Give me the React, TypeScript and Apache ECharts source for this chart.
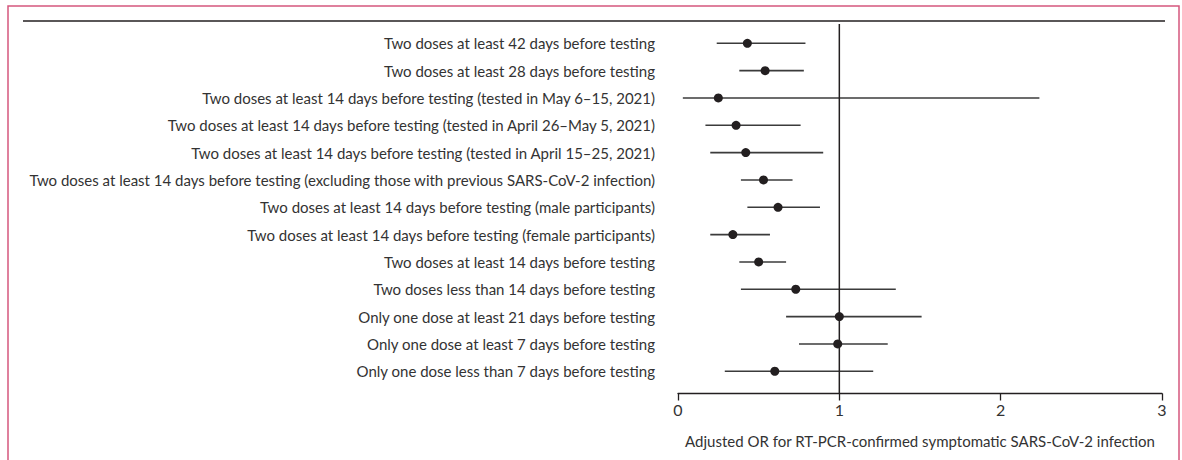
import React, { useEffect, useRef } from "react";
import * as echarts from "echarts";

const categories = [
  "Two doses at least 42 days before testing",
  "Two doses at least 28 days before testing",
  "Two doses at least 14 days before testing (tested in May 6–15, 2021)",
  "Two doses at least 14 days before testing (tested in April 26–May 5, 2021)",
  "Two doses at least 14 days before testing (tested in April 15–25, 2021)",
  "Two doses at least 14 days before testing (excluding those with previous SARS-CoV-2 infection)",
  "Two doses at least 14 days before testing (male participants)",
  "Two doses at least 14 days before testing (female participants)",
  "Two doses at least 14 days before testing",
  "Two doses less than 14 days before testing",
  "Only one dose at least 21 days before testing",
  "Only one dose at least 7 days before testing",
  "Only one dose less than 7 days before testing",
];
const orValues = [0.43, 0.54, 0.25, 0.36, 0.42, 0.53, 0.62, 0.34, 0.5, 0.73, 1.0, 0.99, 0.6];
const ciLow = [0.24, 0.38, 0.03, 0.17, 0.2, 0.39, 0.43, 0.2, 0.38, 0.39, 0.67, 0.75, 0.29];
const ciHigh = [0.79, 0.78, 2.24, 0.76, 0.9, 0.71, 0.88, 0.57, 0.67, 1.35, 1.51, 1.3, 1.21];
const xTicks = [0, 1, 2, 3];
const referenceOR = 1;
const axisTitle = "Adjusted OR for RT-PCR-confirmed symptomatic SARS-CoV-2 infection";

const FONT = "Lato";
const INK = "#231f20";

export default function App() {
  const ref = useRef<HTMLDivElement>(null);
  useEffect(() => {
    document.body.style.margin = "0";
    const chart = echarts.init(ref.current!, undefined, { renderer: "svg" });
    const rowH = 27.33;
    const gridLeft = 678;
    const gridWidth = 484;
    const rowsTop = 43.3 - rowH / 2;
    chart.setOption({
      animation: false,
      backgroundColor: "#ffffff",
      textStyle: { fontFamily: FONT },
      grid: [
        { left: gridLeft, width: gridWidth, top: rowsTop, height: rowH * categories.length },
        { left: gridLeft, width: gridWidth, top: 24, height: 393.5 - 24 },
      ],
      xAxis: [
        { gridIndex: 0, type: "value", min: 0, max: 3, show: false },
        {
          gridIndex: 1,
          type: "value",
          min: 0,
          max: 3,
          interval: 1,
          axisLine: { show: true, lineStyle: { color: INK, width: 1.3 } },
          axisTick: { show: true, length: 7, lineStyle: { color: INK, width: 1.3 } },
          splitLine: { show: false },
          axisLabel: {
            color: "#333",
            fontSize: 16,
            fontFamily: FONT,
            margin: 8,
            formatter: (v: number) => (xTicks.includes(v) ? String(v) : ""),
          },
          name: axisTitle,
          nameLocation: "middle",
          nameGap: 40,
          nameTextStyle: { color: "#333", fontSize: 15, fontFamily: FONT },
        },
      ],
      yAxis: [
        {
          gridIndex: 0,
          type: "category",
          data: categories,
          inverse: true,
          axisLine: { show: false },
          axisTick: { show: false },
          splitLine: { show: false },
          axisLabel: { color: "#333", fontSize: 15, fontFamily: FONT, margin: 23 },
        },
        { gridIndex: 1, type: "value", min: 0, max: 1, show: false },
      ],
      graphic: [
        {
          type: "rect",
          shape: { x: 8, y: 6, width: 1171, height: 470 },
          style: { fill: "none", stroke: "#d5577d", lineWidth: 1.5 },
          silent: true,
        },
        {
          type: "line",
          shape: { x1: 23, y1: 21, x2: 1165, y2: 21 },
          style: { stroke: INK, lineWidth: 1.5 },
          silent: true,
        },
      ],
      series: [
        {
          type: "line",
          xAxisIndex: 1,
          yAxisIndex: 1,
          data: [
            [referenceOR, 0],
            [referenceOR, 1],
          ],
          symbol: "none",
          lineStyle: { color: INK, width: 1.5 },
          silent: true,
        },
        {
          type: "custom",
          xAxisIndex: 0,
          yAxisIndex: 0,
          data: categories.map((_, i) => [ciLow[i], ciHigh[i], i]),
          encode: { x: [0, 1], y: 2 },
          renderItem: (_params: any, api: any) => {
            const lo = api.coord([api.value(0), api.value(2)]);
            const hi = api.coord([api.value(1), api.value(2)]);
            return {
              type: "line",
              shape: { x1: lo[0], y1: lo[1], x2: hi[0], y2: hi[1] },
              style: { stroke: "#3b3b3b", lineWidth: 1.6 },
            };
          },
          silent: true,
        },
        {
          type: "scatter",
          xAxisIndex: 0,
          yAxisIndex: 0,
          data: orValues.map((v, i) => [v, i]),
          symbol: "circle",
          symbolSize: 9,
          itemStyle: { color: INK, opacity: 1 },
          silent: true,
        },
      ],
    });
    return () => chart.dispose();
  }, []);
  return <div ref={ref} style={{ width: 1182, height: 460 }} />;
}
